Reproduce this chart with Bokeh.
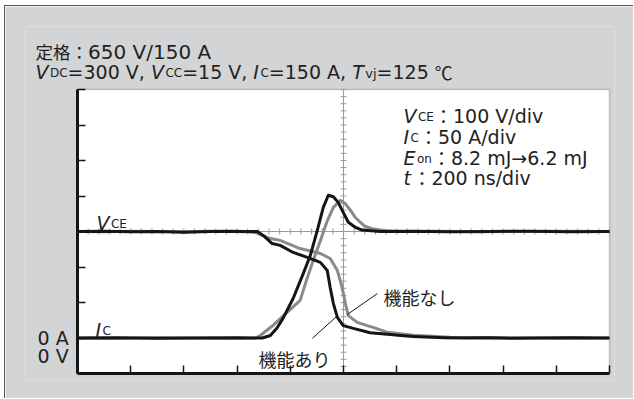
from bokeh.plotting import figure
from bokeh.models import Range1d, Label, BoxAnnotation, SingleIntervalTicker
from bokeh.embed import file_html
from bokeh.resources import INLINE
import numpy as np

# ---- turn-on waveforms (time in ns, VCE in V, IC in A) ----
# with the function (black)
t_vce_with = [-1000, -900, -800, -700, -600, -500, -420, -370, -324, -302, -268, -238,
              -189, -136, -87, -61, -50, -38, -23, -1, 37, 100, 176, 214, 262, 377,
              450, 550, 650, 750, 850, 950, 1000]
vce_with = [300, 301, 299, 300, 298, 300, 301, 300, 300, 289, 266, 261,
            241, 227, 213, 190, 142, 97, 58, 35, 27, 15, 10, 7, 4, 1,
            0, 1, -1, 0, 1, 0, 0]

t_ic_with = [-1000, -850, -700, -550, -400, -305, -275, -250, -227, -189, -151, -125,
             -99, -76, -57, -38, -20, -1, 18, 44, 70, 138, 250, 400, 550, 700, 850, 1000]
ic_with = [0, 0.5, -0.5, 0, 0.5, 0, 3.5, 14, 28, 56, 91, 116,
           151, 184, 201, 199, 191, 177, 163, 156, 152, 150, 150.5, 149.5, 150, 150.5, 149.5, 150]

# without the function (gray)
t_vce_without = [-1000, -900, -800, -700, -600, -500, -420, -370, -331, -275, -238, -163,
                 -87, -50, -23, -5, 7, 18, 52, 89, 112, 165, 262, 401, 589, 700, 800, 900, 1000]
vce_without = [300, 299, 301, 300, 299, 301, 300, 299, 297, 280, 275, 252,
               238, 224, 190, 142, 97, 63, 44, 35, 30, 16, 8, 2, 0.5, 1, 0, 1, 0]

t_ic_without = [-1000, -850, -700, -550, -400, -332, -313, -264, -212, -163, -136, -114,
                -87, -61, -38, -12, 7, 26, 44, 63, 82, 108, 157, 213, 350, 500, 650, 800, 1000]
ic_without = [0, -0.5, 0.5, 0, -0.5, 0, 3.5, 18, 36, 53, 85, 109,
              137, 165, 184, 194, 189, 180, 170, 163, 157, 154, 151, 150, 150.5, 149.5, 150, 150.5, 150]

BLACK = "#151515"
GRAY = "#8a8a8a"
GRID = "#9a9a9a"
TEXT = "#222222"
PANEL = "#d3d4d6"
LATIN = "DejaVu Sans"
CJK = "Noto Sans CJK JP"

# scope screen: 10 div x 200 ns, 8 div x 100 V (50 A)
T0, T1 = -1000, 1000
V0, V1 = -100, 700

# page layout (pixels): scope screen box and the drawing frame around it
SX0, SX1, SY0, SY1 = 77, 609, 89, 373
FX0, FX1, FY0, FY1 = 25, 614, 26, 379


def dx(px):
    return T0 + (px - SX0) * (T1 - T0) / (SX1 - SX0)


def dy(py):
    return V1 - (py - SY0) * (V1 - V0) / (SY1 - SY0)


p = figure(width=629, height=393,
           x_range=Range1d(dx(FX0), dx(FX1)), y_range=Range1d(dy(FY1), dy(FY0)),
           output_backend="svg", toolbar_location=None,
           min_border_left=20, min_border_right=20,
           min_border_top=20, min_border_bottom=20,
           background_fill_color=PANEL, border_fill_color=PANEL,
           outline_line_color=None)
p.extra_y_ranges = {"ic": Range1d(dy(FY1) / 2, dy(FY0) / 2)}   # 50 A/div against 100 V/div
p.styles = {"margin-left": "4px", "margin-top": "5px",
            "border-left": "1px solid #555555", "border-top": "1px solid #555555"}
p.grid.visible = False

# white scope screen with a thin frame on the top and right
p.add_layout(BoxAnnotation(left=T0, right=T1, bottom=V0, top=V1, fill_color="white",
                           fill_alpha=1, line_color="#555555", line_width=1.5,
                           level="underlay"))

# scope axes pinned to the screen edges, ticks pointing inward, no tick labels
p.xaxis.fixed_location = V0
p.yaxis.fixed_location = T0
p.xaxis.bounds = (T0, T1)
p.yaxis.bounds = (V0, V1)
p.xaxis.ticker = SingleIntervalTicker(interval=200)
p.yaxis.ticker = SingleIntervalTicker(interval=100)
for ax in (p.xaxis, p.yaxis):
    ax.major_tick_in = 8
    ax.major_tick_out = 0
    ax.minor_tick_in = 0
    ax.minor_tick_out = 0
    ax.major_tick_line_color = BLACK
    ax.major_tick_line_width = 1.5
    ax.axis_line_color = BLACK
    ax.axis_line_width = 3
    ax.major_label_text_font_size = "10px"
    ax.major_label_text_color = None
    ax.major_label_standoff = 0

# centre graticule with fine subdivisions
p.segment(x0=[0, T0], y0=[V0, 300], x1=[0, T1], y1=[V1, 300], line_color=GRID, line_width=1)
hx = np.arange(T0, T1 + 1, 40)
p.segment(x0=hx, y0=300 - 8.5, x1=hx, y1=300 + 8.5, line_color=GRID, line_width=1)
vy = np.arange(V0, V1 + 1, 20)
p.segment(x0=-11, y0=vy, x1=11, y1=vy, line_color=GRID, line_width=1)

# traces: gray underneath, black on top
p.line(t_vce_without, vce_without, line_color=GRAY, line_width=3, line_join="round")
p.line(t_ic_without, ic_without, y_range_name="ic", line_color=GRAY, line_width=3, line_join="round")
p.line(t_vce_with, vce_with, line_color=BLACK, line_width=3, line_join="round")
p.line(t_ic_with, ic_with, y_range_name="ic", line_color=BLACK, line_width=3, line_join="round")

# leader lines for the curve names
p.segment(x0=[127, -117], y0=[125, -1], x1=[14, -27], y1=[66, 60], line_color=BLACK, line_width=1)

# ---- text runs: advance widths (em) of DejaVu Sans for flowing mixed styles ----
ADV = {" ": 0.318, "=": 0.838, ",": 0.318, ".": 0.318, "/": 0.337, "→": 0.838,
       "V": 0.684, "A": 0.684, "C": 0.698, "D": 0.770, "E": 0.632, "T": 0.611,
       "I": 0.295, "J": 0.295, "v": 0.592, "j": 0.278, "o": 0.612, "n": 0.634,
       "m": 0.974, "d": 0.635, "i": 0.278, "s": 0.521, "t": 0.392}
ADV.update({c: 0.636 for c in "0123456789"})

# kind: (font, style, baseline shift px, extra gap after)
KINDS = {"rm": (LATIN, "normal", 0, 0),
         "it": (LATIN, "italic", 0, 1.5),
         "sub": (LATIN, "normal", 1.5, 0),
         "jp": (CJK, "normal", 0, 0)}


def put(text, px, py, size=19, font=LATIN, style="normal", align="left"):
    p.add_layout(Label(x=dx(px), y=dy(py), text=text, text_font=font,
                       text_font_size=f"{size}px", text_font_style=style,
                       text_align=align, text_baseline="alphabetic", text_color=TEXT))


def run_width(text, kind, size):
    if kind == "jp":
        return len(text) * size
    return sum(ADV.get(c, 0.6) for c in text) * size


def flow(px, py, runs):
    x = px
    for text, kind, size in runs:
        font, style, shift, gap = KINDS[kind]
        put(text, x, py + shift, size=size, font=font, style=style)
        x += run_width(text, kind, size) + gap


# heading
flow(35, 51, [("定格：", "jp", 17.5), ("650 V/150 A", "rm", 20)])
flow(35, 71, [("V", "it", 19), ("DC", "sub", 12), ("=300 V, ", "rm", 19),
              ("V", "it", 19), ("CC", "sub", 12), ("=15 V, ", "rm", 19),
              ("I", "it", 19), ("C", "sub", 12), ("=150 A, ", "rm", 19),
              ("T", "it", 19), ("vj", "sub", 13), ("=125 ", "rm", 19), ("℃", "jp", 18)])

# scale block
flow(403, 115, [("V", "it", 19), ("CE", "sub", 12), ("：", "jp", 19), ("100 V/div", "rm", 19)])
flow(403, 136, [("I", "it", 19), ("C", "sub", 12), ("：", "jp", 19), ("50 A/div", "rm", 19)])
flow(403, 157, [("E", "it", 19), ("on", "sub", 12), ("：", "jp", 19), ("8.2 mJ→6.2 mJ", "rm", 19)])
flow(403, 177, [("t", "it", 19), ("：", "jp", 19), ("200 ns/div", "rm", 19)])

# trace names and zero markers
flow(96, 222, [("V", "it", 19), ("CE", "sub", 12)])
flow(95, 329, [("I", "it", 19), ("C", "sub", 12)])
put("0 A", 37, 337)
put("0 V", 37, 355)
put("機能なし", 383, 296, size=18, font=CJK)
put("機能あり", 258, 358, size=18, font=CJK)

open("out.html", "w").write(file_html(p, INLINE))
